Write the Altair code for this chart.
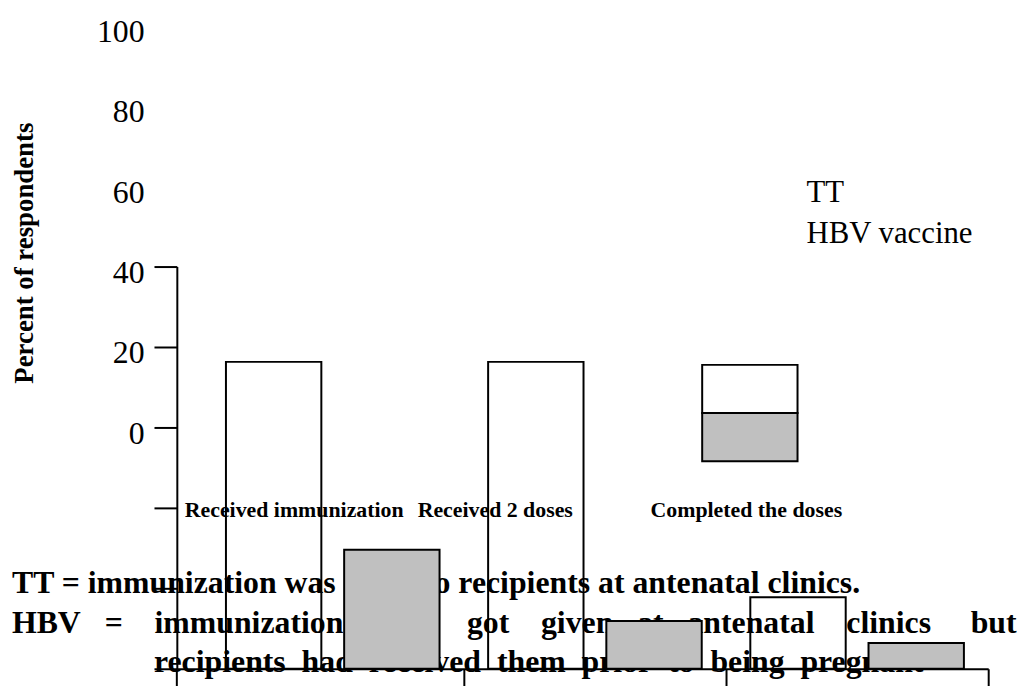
import altair as alt
import pandas as pd

# ---- data ----
categories = ["Received immunization", "Received 2 doses", "Completed the doses"]
series = ["TT", "HBV vaccine"]
tt_values = [76.3, 76.3, 17.8]
hbv_values = [29.6, 11.9, 6.4]
y_ticks = [0, 20, 40, 60, 80, 100]
y_title = "Percent of respondents"

NB = "\u00a0"
note_line1 = "TT = immunization was given to recipients at antenatal clinics."
note_line2_words = ["HBV", "=", "immunization", "not", "got", "given", "at",
                    "antenatal", "clinics", "but"]
note_line2_gaps = [3, 4, 5, 5, 4, 3, 3, 4, 5]   # justified spacing, in no-break spaces
note_line3_words = ["recipients", "had", "received", "them", "prior", "to",
                    "being", "pregnant"]

note_line2 = note_line2_words[0]
for w, g in zip(note_line2_words[1:], note_line2_gaps):
    note_line2 += NB * g + w
note_line3 = (NB * 2).join(note_line3_words)

FONT = "Liberation Serif"

bars = pd.DataFrame({
    "category": categories * 2,
    "series": [series[0]] * len(categories) + [series[1]] * len(categories),
    "value": tt_values + hbv_values,
})

# ---- notes behind the bars ----
notes = alt.Chart(pd.DataFrame({"line": [0, 1], "text": [note_line1, note_line2]})).mark_text(
    align="left", baseline="alphabetic", font=FONT, fontSize=32, fontWeight="bold", color="black"
).encode(
    x=alt.value(-166),
    y=alt.Y("line:O", scale=alt.Scale(type="point", domain=[0, 1], range=[329, 369], padding=0), axis=None),
    text="text:N",
)

notes3 = alt.Chart(pd.DataFrame({"text": [note_line3]})).mark_text(
    align="left", baseline="alphabetic", font=FONT, fontSize=32, fontWeight="bold", color="black"
).encode(
    x=alt.value(-23),
    y=alt.value(408),
    text="text:N",
)

# ---- category labels (displaced, as in the reference) ----
cat_labels = alt.Chart(pd.DataFrame({"category": categories})).mark_text(
    align="left", baseline="middle", font=FONT, fontSize=22, fontWeight="bold", color="black"
).encode(
    x=alt.X("category:N", scale=alt.Scale(type="point", domain=categories, range=[8, 477], padding=0), axis=None),
    y=alt.value(245),
    text="category:N",
)

# ---- bars with axes ----
bar_layer = alt.Chart(bars).mark_bar(stroke="black", strokeWidth=2).encode(
    x=alt.X(
        "category:N",
        sort=categories,
        scale=alt.Scale(domain=categories, paddingInner=0, paddingOuter=0.04735, align=1),
        axis=alt.Axis(title=None, labels=False, bandPosition=1, tickSize=30, tickColor="black",
                      tickWidth=2, domainColor="black", domainWidth=2),
    ),
    xOffset=alt.XOffset("series:N", sort=series,
                        scale=alt.Scale(domain=series, paddingInner=0.193, paddingOuter=0.2055)),
    y=alt.Y(
        "value:Q",
        scale=alt.Scale(domain=[0, 100], nice=False),
        axis=alt.Axis(
            values=y_ticks, title=y_title, grid=False,
            tickSize=23, tickColor="black", tickWidth=2,
            domainColor="black", domainWidth=2,
            labelFont=FONT, labelFontSize=32, labelColor="black",
            labelOffset=-237, labelPadding=10, labelFlush=False, labelBaseline="middle",
            labelOverlap=False,
            titleFont=FONT, titleFontSize=27, titleFontWeight="bold", titleColor="black",
            titleX=-153, titleY=-14, titleAngle=270, titleAlign="center", titleBaseline="middle",
        ),
    ),
    fill=alt.Fill("series:N", scale=alt.Scale(domain=series, range=["rgba(0,0,0,0)", "#c0c0c0"]),
                  legend=None),
)

# y-axis line continues below the baseline, as in the reference
axis_ext = alt.Chart(pd.DataFrame({"k": [0]})).mark_rule(color="black", strokeWidth=2).encode(
    x=alt.value(0), y=alt.value(405), y2=alt.value(440)
)

# ---- legend (swatches and labels displaced as in the reference) ----
legend_df = pd.DataFrame({"series": series})
legend_sw = alt.Chart(legend_df).mark_rect(stroke="black", strokeWidth=2).encode(
    x=alt.value(529),
    x2=alt.value(625),
    y=alt.Y("series:N", scale=alt.Scale(type="band", domain=series, range=[99, 196],
                                        paddingInner=0, paddingOuter=0), axis=None),
    fill=alt.Fill("series:N", scale=alt.Scale(domain=series, range=["white", "#c0c0c0"]), legend=None),
)
legend_txt = alt.Chart(legend_df).mark_text(
    align="left", baseline="middle", font=FONT, fontSize=31, color="black"
).encode(
    x=alt.value(634),
    y=alt.Y("series:N", scale=alt.Scale(type="point", domain=series, range=[-74, -33], padding=0), axis=None),
    text="series:N",
)

chart = alt.layer(notes, notes3, cat_labels, bar_layer, axis_ext, legend_sw, legend_txt).resolve_scale(
    x="independent", y="independent", fill="independent"
).properties(
    width=817,
    height=405,
    padding={"left": 170, "top": 258, "right": 29, "bottom": 15},
    autosize=alt.AutoSizeParams(type="none"),
    background="white",
).configure_view(stroke=None)

chart.save("out.html", embed_options={"renderer": "svg", "actions": False})
